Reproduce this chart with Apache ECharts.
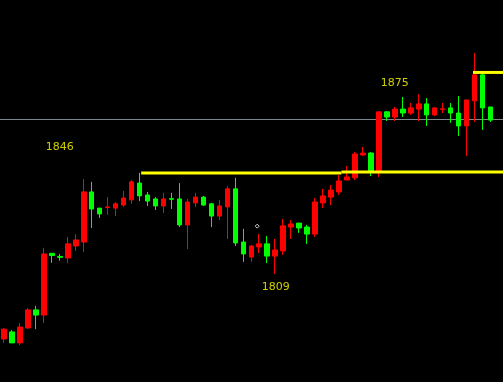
<!DOCTYPE html>
<html>
<head>
<meta charset="utf-8">
<style>
html,body{margin:0;padding:0;background:#000;}
#chart{width:503px;height:382px;}
</style>
<script src="https://cdn.jsdelivr.net/npm/echarts@6/dist/echarts.min.js"></script>
</head>
<body>
<div id="chart"></div>
<script>
// Candle values (open, close, low, high)
const opens  = [1788.1,1790.4,1786.8,1791.7,1797.6,1795.9,1816.1,1815.1,1814.6,1818.5,1819.8,1836.2,1830.9,1831.1,1830.9,1831.9,1833.6,1839.1,1835.2,1833.9,1831.6,1834.0,1833.9,1825.4,1832.6,1834.5,1832.3,1828.3,1831.3,1837.2,1819.8,1814.9,1818.2,1819.2,1815.2,1816.9,1824.7,1826.0,1824.7,1822.4,1832.6,1834.5,1836.2,1840.1,1840.8,1848.3,1848.9,1843.0,1862.4,1860.7,1863.3,1862.0,1863.3,1865.0,1861.4,1863.2,1863.7,1862.0,1857.8,1866.0,1874.5,1864.0];
const closes = [1791.3,1786.8,1792.0,1797.6,1795.9,1815.9,1815.4,1814.8,1819.2,1820.5,1836.2,1830.6,1829.0,1831.3,1832.3,1834.2,1839.5,1834.9,1833.2,1831.6,1833.9,1833.8,1825.4,1832.9,1834.5,1831.9,1828.3,1831.6,1837.2,1819.5,1815.9,1818.5,1819.2,1815.2,1817.2,1825.1,1825.7,1824.4,1822.4,1832.9,1834.9,1836.8,1839.8,1841.1,1848.6,1848.9,1842.7,1862.4,1860.7,1863.3,1862.0,1863.7,1865.0,1861.4,1863.7,1863.4,1862.0,1857.8,1866.3,1874.5,1863.7,1859.7];
const lows   = [1786.8,1786.8,1786.1,1791.3,1791.3,1793.3,1813.0,1813.7,1812.9,1816.9,1816.5,1824.4,1827.7,1828.7,1828.3,1831.3,1832.3,1833.2,1831.6,1830.3,1829.3,1830.6,1824.7,1817.5,1831.3,1831.6,1824.7,1827.0,1820.8,1818.5,1813.3,1813.3,1816.2,1812.9,1809.3,1815.6,1820.8,1822.8,1819.2,1821.5,1830.9,1831.9,1835.2,1840.1,1840.1,1848.0,1841.4,1841.1,1859.4,1859.4,1860.7,1861.4,1859.4,1857.8,1861.0,1862.0,1858.8,1854.5,1848.0,1859.1,1856.5,1859.1];
const highs  = [1791.7,1791.0,1793.3,1798.2,1798.9,1817.9,1816.2,1815.9,1821.5,1822.4,1840.4,1839.5,1830.9,1834.5,1832.9,1836.5,1840.1,1842.4,1836.2,1834.5,1835.9,1835.9,1839.1,1833.9,1835.9,1834.9,1832.6,1833.6,1838.1,1840.8,1824.1,1818.8,1822.4,1821.8,1820.8,1827.3,1827.0,1826.0,1825.4,1834.2,1837.2,1838.5,1841.7,1844.7,1849.3,1850.9,1849.3,1862.4,1862.7,1864.0,1867.3,1865.3,1868.2,1866.9,1864.0,1865.3,1865.3,1867.6,1866.3,1881.7,1875.1,1864.0];

// Horizontal / trend lines: [x index, price]
const supportLine1 = [[17.2, 1842.4], [42.3, 1842.4]];
const supportLine2 = [[42.3, 1842.7], [62.6, 1842.7]];
const resistLine   = [[58.8, 1875.3], [62.6, 1875.3]];
const greyLevel    = [[-0.5, 1859.9], [62.6, 1859.9]];

// Text annotations
const noteTexts = ['1846', '1875', '1809'];
const noteX     = [7.0, 49.0, 34.06];
const notePrice = [1851.0, 1871.8, 1805.1];

// small white marker
const markerPoint = [[31.75, 1825.0]];

const categories = opens.map((_, i) => 'K' + (i + 1));
categories.push('');

const candleData = opens.map((o, i) => [o, closes[i], lows[i], highs[i]]);

const chart = echarts.init(document.getElementById('chart'), null, {renderer: 'canvas'});
chart.setOption({
  backgroundColor: '#000000',
  animation: false,
  grid: {left: -1.5, right: 0.5, top: 0, bottom: 0},
  xAxis: [
    {type: 'category', data: categories, boundaryGap: true, show: false},
    {type: 'value', min: -0.5, max: 62.5, show: false}
  ],
  yAxis: {type: 'value', min: 1774, max: 1899, show: false, splitLine: {show: false}},
  series: [
    {
      type: 'line', xAxisIndex: 1, data: greyLevel, symbol: 'none', silent: true,
      lineStyle: {color: '#808890', width: 1}, z: 1
    },
    {
      type: 'candlestick', data: candleData, barWidth: 5, z: 2,
      itemStyle: {color: '#ff0000', color0: '#00ff00', borderColor: '#ff0000', borderColor0: '#00ff00', borderWidth: 1}
    },
    {
      type: 'line', xAxisIndex: 1, data: supportLine1, symbol: 'none', z: 3,
      lineStyle: {color: '#ffff00', width: 3}
    },
    {
      type: 'line', xAxisIndex: 1, data: supportLine2, symbol: 'none', z: 3,
      lineStyle: {color: '#ffff00', width: 3}
    },
    {
      type: 'line', xAxisIndex: 1, data: resistLine, symbol: 'none', z: 3,
      lineStyle: {color: '#ffff00', width: 3}
    },
    {
      type: 'scatter', xAxisIndex: 1, z: 4,
      data: markerPoint, symbol: 'diamond', symbolSize: 4,
      itemStyle: {color: '#000000', borderColor: '#ffffff', borderWidth: 1}
    },
    {
      type: 'scatter', xAxisIndex: 1, z: 5, symbolSize: 0,
      data: noteTexts.map((t, i) => ({name: t, value: [noteX[i], notePrice[i]]})),
      label: {
        show: true, position: 'inside', formatter: p => p.name,
        color: '#ffff00', fontFamily: 'DejaVu Sans', fontSize: 11
      }
    }
  ]
});
</script>
</body>
</html>
